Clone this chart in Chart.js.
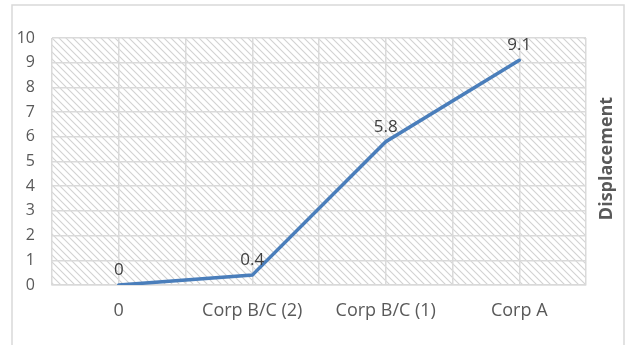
<!DOCTYPE html>
<html>
<head>
<meta charset="utf-8">
<script src="https://cdn.jsdelivr.net/npm/chart.js@4/dist/chart.umd.min.js"></script>
<style>
  html, body { margin: 0; padding: 0; background: #fff; }
  #wrap { position: relative; width: 627px; height: 345px; }
</style>
</head>
<body>
<div id="wrap"><canvas id="chart" width="627" height="345"></canvas></div>
<script>
// categories and displacement values
const categories = ['0', 'Corp B/C (2)', 'Corp B/C (1)', 'Corp A'];
const displacement = [0, 0.4, 5.8, 9.1];
const yTicks = [0, 1, 2, 3, 4, 5, 6, 7, 8, 9, 10];
const axisTitle = 'Displacement';

const FONT = '"Open Sans", "Noto Sans", sans-serif';

// diagonal hatch used as the plot area fill
function makeHatch() {
    const c = document.createElement('canvas');
    c.width = 7; c.height = 7;
    const g = c.getContext('2d');
    g.strokeStyle = '#d2d2d2';
    g.lineWidth = 1.1;
    g.beginPath();
    g.moveTo(-1, -1); g.lineTo(8, 8);
    g.moveTo(-1, 6); g.lineTo(1, 8);
    g.moveTo(6, -1); g.lineTo(8, 1);
    g.stroke();
    return c;
}

const frameAndBackground = {
    id: 'frameAndBackground',
    beforeDraw(chart) {
        const ctx = chart.ctx;
        const a = chart.chartArea;
        ctx.save();
        ctx.fillStyle = '#fff';
        ctx.fillRect(0, 0, chart.width, chart.height);
        ctx.strokeStyle = '#d9d9d9';
        ctx.lineWidth = 1.5;
        ctx.strokeRect(12, 5, 612, 360);
        ctx.fillStyle = ctx.createPattern(makeHatch(), 'repeat');
        ctx.fillRect(a.left, a.top, a.right - a.left, a.bottom - a.top);
        ctx.restore();
    },
    afterDraw(chart) {
        const ctx = chart.ctx;
        const a = chart.chartArea;
        ctx.save();
        // axis title on the right
        ctx.translate(607, (a.top + a.bottom) / 2 - 3);
        ctx.rotate(-Math.PI / 2);
        ctx.font = 'bold 18px ' + FONT;
        ctx.fillStyle = '#595959';
        ctx.textAlign = 'center';
        ctx.textBaseline = 'middle';
        ctx.fillText(axisTitle, 0, 0);
        ctx.restore();

        // value labels above the points
        const meta = chart.getDatasetMeta(0);
        ctx.save();
        ctx.font = '17px ' + FONT;
        ctx.fillStyle = '#404040';
        ctx.textAlign = 'center';
        ctx.textBaseline = 'middle';
        meta.data.forEach((pt, i) => {
            ctx.fillText(String(displacement[i]), pt.x, pt.y - 15);
        });
        ctx.restore();
    }
};

new Chart(document.getElementById('chart'), {
    type: 'line',
    data: {
        datasets: [{
            data: categories.map((c, i) => ({ x: i, y: displacement[i] })),
            borderColor: '#4a7ebb',
            borderWidth: 3.5,
            pointRadius: 0,
            tension: 0,
            borderCapStyle: 'round'
        }]
    },
    options: {
        responsive: false,
        animation: false,
        layout: { padding: { left: 0, right: 41, top: 38, bottom: 0 } },
        plugins: { legend: { display: false }, tooltip: { enabled: false } },
        scales: {
            x: {
                type: 'linear',
                min: -0.5,
                max: 3.5,
                afterBuildTicks(scale) {
                    const t = [];
                    for (let v = -0.5; v <= 3.5; v += 0.5) t.push({ value: v });
                    scale.ticks = t;
                },
                afterFit(scale) { scale.height = 60; },
                grid: { color: '#dadada', lineWidth: 1.5, drawTicks: false },
                border: { color: '#d9d9d9', width: 1.5 },
                ticks: {
                    padding: 15,
                    autoSkip: false,
                    maxRotation: 0,
                    color: '#595959',
                    font: { family: FONT, size: 18 },
                    callback: v => Number.isInteger(v) ? categories[v] : ''
                }
            },
            y: {
                min: yTicks[0],
                max: yTicks[yTicks.length - 1],
                afterBuildTicks(scale) {
                    scale.ticks = yTicks.map(v => ({ value: v }));
                },
                afterFit(scale) { scale.width = 52; },
                grid: { color: '#dadada', lineWidth: 1.5, drawTicks: false },
                border: { display: false },
                ticks: {
                    padding: 17,
                    color: '#595959',
                    font: { family: FONT, size: 16 }
                }
            }
        }
    },
    plugins: [frameAndBackground]
});
</script>
</body>
</html>
